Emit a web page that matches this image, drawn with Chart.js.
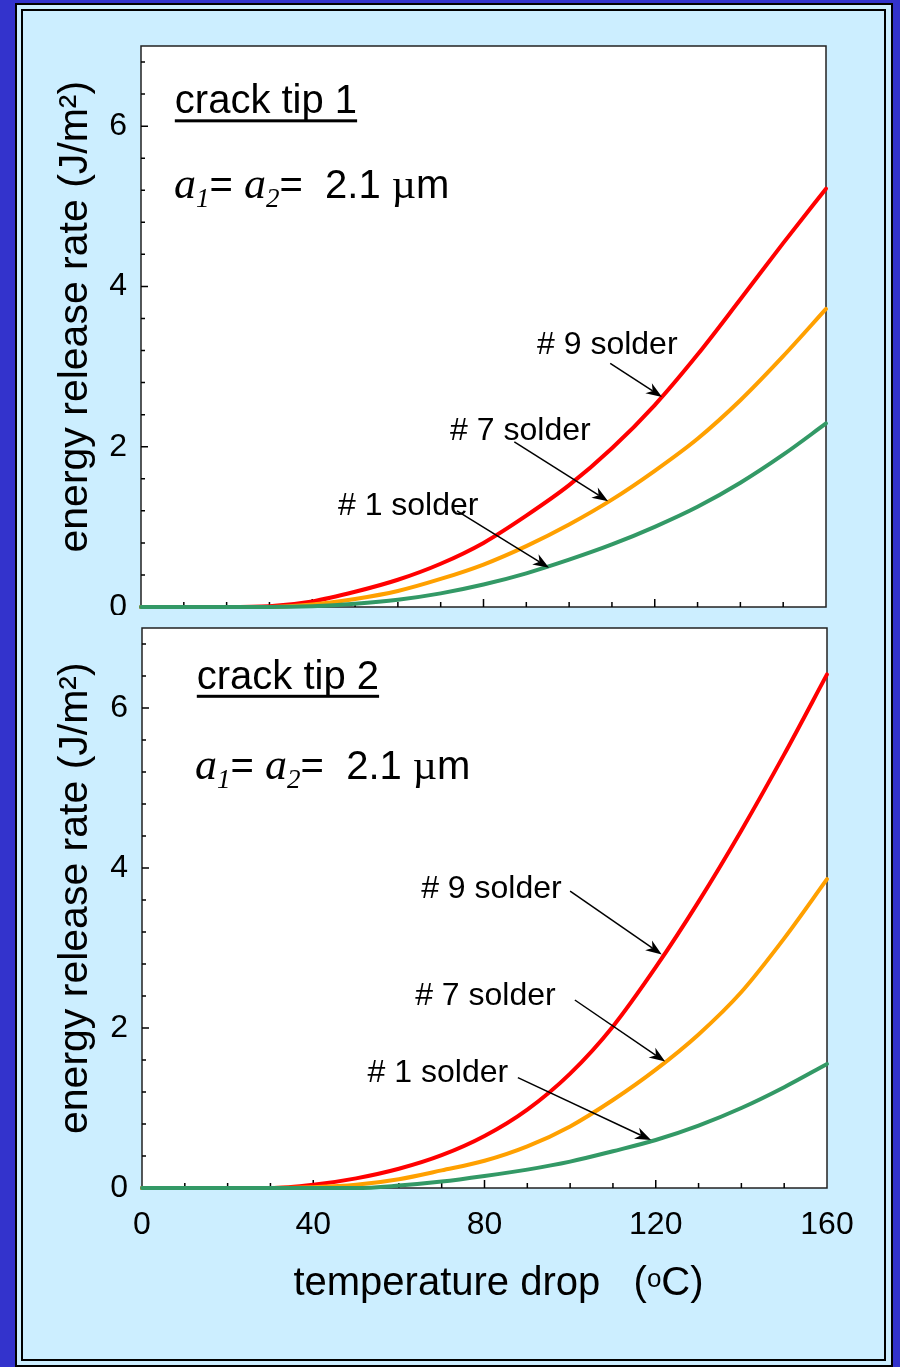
<!DOCTYPE html>
<html>
<head>
<meta charset="utf-8">
<script src="https://cdn.jsdelivr.net/npm/chart.js@4.4.1/dist/chart.umd.min.js"></script>
<style>
  html, body { margin: 0; padding: 0; background: #3333cc; width: 900px; height: 1367px; overflow: hidden; }
  #outer { position: absolute; left: 15px; top: 3px; width: 878px; height: 1364px; box-sizing: border-box; border: 2px solid #000; background: #cceeff; }
  #inner { position: absolute; left: 21px; top: 9px; width: 865px; height: 1352px; box-sizing: border-box; border: 2px solid #000; }
  canvas { position: absolute; left: 0; }
</style>
</head>
<body>
<div id="outer"></div>
<div id="inner"></div>
<canvas id="tip1" width="900" height="615" style="top:0"></canvas>
<canvas id="tip2" width="900" height="752" style="top:615px"></canvas>
<script>
// temperature drop (deg C)
const temps = [0, 10, 20, 30, 40, 50, 60, 70, 80, 90, 100, 110, 120, 130, 140, 150, 160];

// crack tip 1, energy release rate (J/m2)
const tip1No9 = [0, 0, 0, 0.01, 0.07, 0.19, 0.34, 0.54, 0.80, 1.14, 1.52, 1.98, 2.52, 3.15, 3.84, 4.54, 5.22];
const tip1No7 = [0, 0, 0, 0, 0.03, 0.10, 0.20, 0.35, 0.53, 0.76, 1.03, 1.34, 1.70, 2.10, 2.58, 3.13, 3.72];
const tip1No1 = [0, 0, 0, 0, 0.01, 0.04, 0.09, 0.17, 0.28, 0.42, 0.59, 0.78, 1.00, 1.25, 1.55, 1.90, 2.29];

// crack tip 2
const tip2No9 = [0, 0, 0, 0, 0.04, 0.12, 0.24, 0.41, 0.65, 0.98, 1.43, 2.02, 2.76, 3.58, 4.47, 5.42, 6.42];
const tip2No7 = [0, 0, 0, 0, 0.01, 0.04, 0.11, 0.22, 0.34, 0.52, 0.77, 1.10, 1.48, 1.92, 2.45, 3.12, 3.86];
const tip2No1 = [0, 0, 0, 0, 0, 0, 0.03, 0.08, 0.15, 0.23, 0.33, 0.46, 0.60, 0.78, 1.00, 1.26, 1.55];

const solders = ['# 9 solder', '# 7 solder', '# 1 solder'];
const colors = ['#ff0000', '#ffa000', '#339966'];
const xTicks = [0, 40, 80, 120, 160];
const yTicks = [0, 2, 4, 6];

const sans = '"Liberation Sans", Arial, sans-serif';
const serif = '"Liberation Serif", "Times New Roman", serif';

// label + arrow placement, in data units (temp, G)
const notes1 = {
  title: 'crack tip 1', titleAt: [7.9, 6.16], sizeAt: [7.7, 5.10],
  arrows: [
    { text: solders[0], at: [92.5, 3.16], from: [109.6, 3.04], to: [121.7, 2.62] },
    { text: solders[1], at: [72.2, 2.08], from: [87.2, 2.06], to: [109.1, 1.32] },
    { text: solders[2], at: [46, 1.15], from: [73.8, 1.20], to: [95.3, 0.49] }
  ]
};
const notes2 = {
  title: 'crack tip 2', titleAt: [12.8, 6.24], sizeAt: [12.4, 5.11], xTitle: true,
  arrows: [
    { text: solders[0], at: [65.2, 3.62], from: [100, 3.71], to: [121.4, 2.92] },
    { text: solders[1], at: [63.8, 2.29], from: [101.1, 2.35], to: [122.2, 1.58] },
    { text: solders[2], at: [52.7, 1.32], from: [87.8, 1.38], to: [118.9, 0.60] }
  ]
};

function drawArrow(ctx, x1, y1, x2, y2) {
  const a = Math.atan2(y2 - y1, x2 - x1);
  const c = Math.cos(a), s = Math.sin(a);
  const hl = 16, hw = 6;
  ctx.beginPath();
  ctx.moveTo(x1, y1);
  ctx.lineTo(x2 - c * hl * 0.7, y2 - s * hl * 0.7);
  ctx.stroke();
  ctx.beginPath();
  ctx.moveTo(x2, y2);
  ctx.lineTo(x2 - c * hl + s * hw, y2 - s * hl - c * hw);
  ctx.lineTo(x2 - c * hl * 0.7, y2 - s * hl * 0.7);
  ctx.lineTo(x2 - c * hl - s * hw, y2 - s * hl + c * hw);
  ctx.closePath();
  ctx.fill();
}

function drawPieces(ctx, x, y, pieces) {
  pieces.forEach(p => {
    ctx.font = p[1];
    ctx.fillText(p[0], x, y + p[2]);
    x += ctx.measureText(p[0]).width;
  });
}

const frame = {
  id: 'frame',
  beforeDatasetsDraw(chart) {
    const { ctx, chartArea: a, scales: { x, y } } = chart;
    ctx.save();
    ctx.fillStyle = '#fff';
    ctx.fillRect(a.left, a.top, a.right - a.left, a.bottom - a.top);
    ctx.strokeStyle = '#222';
    ctx.lineWidth = 1.5;
    ctx.strokeRect(a.left, a.top, a.right - a.left, a.bottom - a.top);
    ctx.strokeStyle = '#000';
    ctx.beginPath();
    for (let i = 1; i <= 17; i++) {
      const py = y.getPixelForValue(i * 0.4);
      ctx.moveTo(a.left, py);
      ctx.lineTo(a.left + (i % 5 === 0 ? 7 : 4), py);
    }
    for (let i = 1; i < 16; i++) {
      const px = x.getPixelForValue(i * 10);
      ctx.moveTo(px, a.bottom);
      ctx.lineTo(px, a.bottom - (i % 4 === 0 ? 8 : 5));
    }
    ctx.stroke();
    ctx.restore();
  },
  afterDatasetsDraw(chart, args, opts) {
    const { ctx, chartArea: a, scales: { x, y } } = chart;
    const px = p => [x.getPixelForValue(p[0]), y.getPixelForValue(p[1])];
    ctx.save();
    ctx.fillStyle = '#000';
    ctx.strokeStyle = '#000';
    ctx.textBaseline = 'alphabetic';
    ctx.textAlign = 'left';

    const [tx, ty] = px(opts.titleAt);
    ctx.font = '40px ' + sans;
    ctx.fillText(opts.title, tx, ty);
    ctx.fillRect(tx, ty + 6, ctx.measureText(opts.title).width, 3);

    const [sx, sy] = px(opts.sizeAt);
    drawPieces(ctx, sx, sy, [
      ['a', 'italic 44px ' + serif, 0],
      ['1', 'italic 27px ' + serif, 9],
      ['= ', '40px ' + sans, 0],
      ['a', 'italic 44px ' + serif, 0],
      ['2', 'italic 27px ' + serif, 9],
      ['=  2.1 ', '40px ' + sans, 0],
      ['\u00b5', '42px ' + serif, 0],
      ['m', '40px ' + sans, 0]
    ]);

    ctx.font = '32px ' + sans;
    ctx.lineWidth = 1.5;
    opts.arrows.forEach(n => {
      const [lx, ly] = px(n.at);
      ctx.fillText(n.text, lx, ly);
      const [x1, y1] = px(n.from);
      const [x2, y2] = px(n.to);
      drawArrow(ctx, x1, y1, x2, y2);
    });

    if (opts.xTitle) {
      const parts = [
        ['temperature drop   (', '40px ' + sans, 0],
        ['o', '26px ' + sans, -8],
        ['C)', '40px ' + sans, 0]
      ];
      let w = 0;
      parts.forEach(p => { ctx.font = p[1]; w += ctx.measureText(p[0]).width; });
      const cx = (a.left + a.right) / 2 + 14;
      drawPieces(ctx, cx - w / 2, a.bottom + 107, parts);
    }
    ctx.restore();
  }
};

function makeChart(id, series, notes, pad, xHeight, yWidth) {
  return new Chart(id, {
    type: 'line',
    data: {
      datasets: series.map((vals, i) => ({
        label: solders[i],
        data: temps.map((t, k) => ({ x: t, y: vals[k] })),
        borderColor: colors[i],
        borderWidth: 4,
        borderCapStyle: 'round',
        pointRadius: 0,
        cubicInterpolationMode: 'monotone',
        clip: false,
        order: 3 - i
      }))
    },
    options: {
      responsive: false,
      animation: false,
      layout: { padding: pad, autoPadding: false },
      plugins: { legend: { display: false }, tooltip: { enabled: false }, frame: notes },
      scales: {
        x: {
          type: 'linear', min: 0, max: 160,
          afterBuildTicks: s => { s.ticks = xTicks.map(v => ({ value: v })); },
          afterFit: s => { s.height = xHeight; s.paddingLeft = 0; s.paddingRight = 0; },
          grid: { display: false, drawTicks: false },
          border: { display: false },
          ticks: { display: !!notes.xTitle, color: '#000', padding: 18, maxRotation: 0, font: { family: sans, size: 32 } }
        },
        y: {
          type: 'linear', min: 0, max: 7,
          afterBuildTicks: s => { s.ticks = yTicks.map(v => ({ value: v })); },
          afterFit: s => { s.width = yWidth; s.paddingTop = 0; s.paddingBottom = 0; },
          grid: { display: false, drawTicks: false },
          border: { display: false },
          ticks: { color: '#000', padding: 14, font: { family: sans, size: 32 } },
          title: {
            display: true,
            text: ' \u2009energy release rate (J/m\u00b2)',
            color: '#000',
            padding: { top: 51, bottom: 0 },
            font: { family: sans, size: 41 }
          }
        }
      }
    },
    plugins: [frame]
  });
}

makeChart('tip1', [tip1No9, tip1No7, tip1No1], notes1, { left: 0, top: 46, right: 74, bottom: 0 }, 8, 141);
makeChart('tip2', [tip2No9, tip2No7, tip2No1], notes2, { left: 0, top: 13, right: 73, bottom: 0 }, 179, 142);
</script>
</body>
</html>
